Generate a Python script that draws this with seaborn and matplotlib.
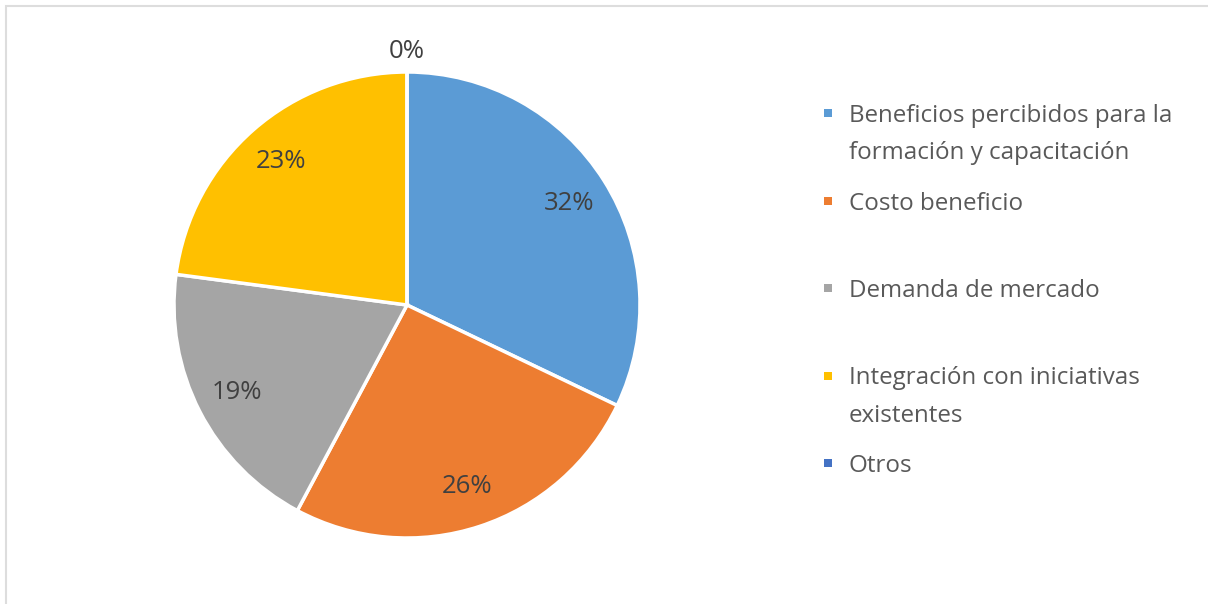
import matplotlib
matplotlib.use("Agg")
import matplotlib.pyplot as plt
import seaborn as sns
import numpy as np
from matplotlib.patches import Rectangle

sns.set_theme(style="white")
plt.rcParams["font.family"] = ["Open Sans", "DejaVu Sans"]

# Share of responses per factor (percent)
categories = [
    "Beneficios percibidos para la\nformación y capacitación",
    "Costo beneficio",
    "Demanda de mercado",
    "Integración con iniciativas\nexistentes",
    "Otros",
]
values = [32.1, 25.7, 19.3, 22.9, 0.0]
colors = ["#5B9BD5", "#ED7D31", "#A5A5A5", "#FFC000", "#4472C4"]

W, H = 1208, 604
fig = plt.figure(figsize=(W / 100, H / 100), dpi=100)
fig.patch.set_facecolor("white")

# light frame around the chart area
fig.patches.append(Rectangle((6 / W, -0.1), 1.2, 1 - 6 / H + 0.1,
                             transform=fig.transFigure, fill=False,
                             edgecolor="#DDDDDD", linewidth=1.5))

cx, cy, r = 407, 305, 233
ax = fig.add_axes([(cx - r) / W, (H - cy - r) / H, 2 * r / W, 2 * r / H])

wedges, texts, autotexts = ax.pie(
    values, colors=colors, startangle=90, counterclock=False,
    autopct="%1.0f%%", pctdistance=0.82,
    wedgeprops=dict(edgecolor="white", linewidth=2.5),
    textprops=dict(color="#404040", fontsize=18.5),
    radius=1.0,
)
ax.set_xlim(-1, 1)
ax.set_ylim(-1, 1)
ax.set_aspect("equal")

# the empty slice gets its label just outside the rim
w = wedges[-1]
ang = np.deg2rad((w.theta1 + w.theta2) / 2)
autotexts[-1].set_position((1.09 * np.cos(ang), 1.09 * np.sin(ang)))

# legend: evenly spaced entries, marker aligned with the first text line
x_mark, x_text = 828, 849
y_first, y_step = 113, 87.5
for i, (lab, col) in enumerate(zip(categories, colors)):
    y = y_first + i * y_step
    fig.patches.append(Rectangle(((x_mark - 4) / W, (H - y - 4) / H), 8 / W, 8 / H,
                                 transform=fig.transFigure, facecolor=col,
                                 edgecolor="none"))
    for k, line in enumerate(lab.split("\n")):
        fig.text(x_text / W, (H - y - 37 * k) / H, line, color="#595959",
                 fontsize=17.4, va="center_baseline", ha="left")

fig.savefig("out.png", dpi=100, facecolor="white")
